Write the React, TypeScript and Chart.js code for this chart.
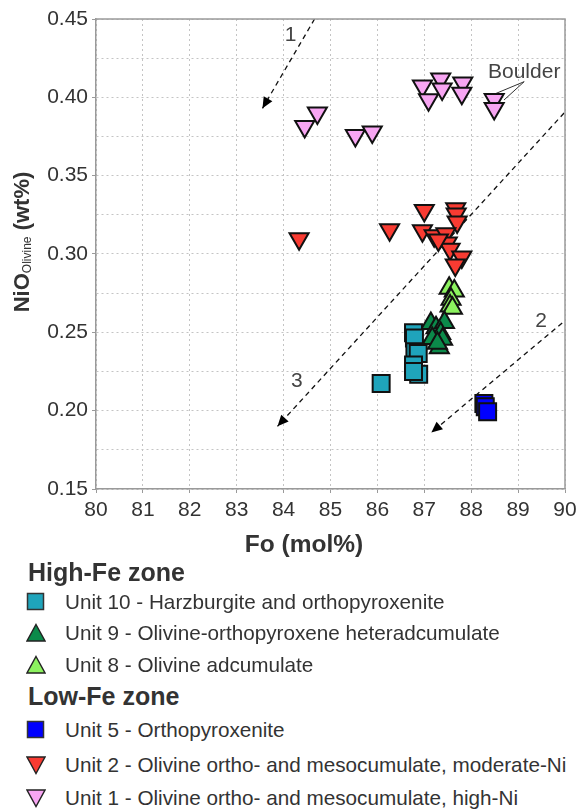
import React, { useEffect, useRef } from 'react';
import { Chart, registerables } from 'chart.js';

Chart.register(...registerables);

const FONT = '"Liberation Sans", Arial, Helvetica, sans-serif';
const TEXT = '#333333';

// ---------- data ----------
const unit10Fo = [86.77, 86.79, 86.8, 86.87, 86.77, 86.88, 86.77, 86.08];
const unit10NiO = [0.2497, 0.2464, 0.2376, 0.2365, 0.2291, 0.2233, 0.225, 0.2174];

const unit9Fo = [87.14, 87.25, 87.43, 87.35, 87.39, 87.32, 87.17, 87.28];
const unit9NiO = [0.2556, 0.253, 0.2562, 0.2492, 0.2456, 0.2402, 0.246, 0.243];

const unit8Fo = [87.53, 87.64, 87.57, 87.55, 87.6];
const unit8NiO = [0.2782, 0.2764, 0.2711, 0.2668, 0.2653];

const unit5Fo = [88.27, 88.3, 88.35];
const unit5NiO = [0.2046, 0.2025, 0.1993];

const unit2Fo = [84.33, 86.26, 87.0, 86.96, 87.21, 87.67, 87.68, 87.7, 87.46, 87.49, 87.55, 87.8, 87.66, 87.3];
const unit2NiO = [0.3097, 0.3155, 0.3278, 0.3149, 0.3117, 0.3289, 0.3256, 0.3205, 0.3129, 0.307, 0.303, 0.2981, 0.293, 0.309];

const unit1Fo = [84.45, 84.72, 85.53, 85.89, 86.96, 87.09, 87.35, 87.38, 87.82, 87.8, 88.49, 88.49];
const unit1NiO = [0.3814, 0.39, 0.3757, 0.3779, 0.4072, 0.3985, 0.4117, 0.4053, 0.4092, 0.4026, 0.3986, 0.3929];

// trend arrows (start -> arrow tip)
const trend1Fo = [84.66, 83.55];
const trend1NiO = [0.45, 0.393];
const trend2Fo = [89.94, 87.15];
const trend2NiO = [0.256, 0.186];
const trend3Fo = [89.98, 83.87];
const trend3NiO = [0.39, 0.19];

const trendLabels = ['1', '2', '3'];
const trendLabelFo = [84.15, 89.49, 84.28];
const trendLabelNiO = [0.4398, 0.2573, 0.219];

const boulderText = 'Boulder';
const boulderFo = 89.13;
const boulderNiO = 0.4162;
const boulderLeaderAFo = [89.13, 88.49];
const boulderLeaderANiO = [0.41, 0.402];
const boulderLeaderBFo = [89.13, 88.7];
const boulderLeaderBNiO = [0.41, 0.3983];

const xMin = 80;
const xMax = 90;
const yMin = 0.15;
const yMax = 0.45;

const xTitle = 'Fo (mol%)';
const yTitleMain = 'NiO';
const yTitleSub = 'Olivine';
const yTitleUnit = '(wt%)';

// ---------- styles ----------
const COLORS = {
  unit10: '#1fa4bb',
  unit9: '#0b8a4a',
  unit8: '#8cf25f',
  unit5: '#0000ff',
  unit2: '#f83b32',
  unit1: '#f7a5f2',
};

type LegendEntry =
  | { kind: 'header'; text: string }
  | { kind: 'item'; marker: 'square' | 'up' | 'down'; color: string; text: string };

const legendEntries: LegendEntry[] = [
  { kind: 'header', text: 'High-Fe zone' },
  { kind: 'item', marker: 'square', color: COLORS.unit10, text: 'Unit 10 - Harzburgite and orthopyroxenite' },
  { kind: 'item', marker: 'up', color: COLORS.unit9, text: 'Unit 9 - Olivine-orthopyroxene heteradcumulate' },
  { kind: 'item', marker: 'up', color: COLORS.unit8, text: 'Unit 8 - Olivine adcumulate' },
  { kind: 'header', text: 'Low-Fe zone' },
  { kind: 'item', marker: 'square', color: COLORS.unit5, text: 'Unit 5 - Orthopyroxenite' },
  { kind: 'item', marker: 'down', color: COLORS.unit2, text: 'Unit 2 - Olivine ortho- and mesocumulate, moderate-Ni' },
  { kind: 'item', marker: 'down', color: COLORS.unit1, text: 'Unit 1 - Olivine ortho- and mesocumulate, high-Ni' },
];
const legendRowCenters = [572, 602, 633, 665, 696, 730, 765, 798];

const pts = (xs: number[], ys: number[]) => xs.map((x, i) => ({ x, y: ys[i] }));

const markerDataset = (label: string, xs: number[], ys: number[], color: string, style: string, rotation: number, radius: number, bw: number) => ({
  label,
  data: pts(xs, ys),
  showLine: false,
  pointStyle: style,
  pointRotation: rotation,
  pointRadius: radius,
  pointBackgroundColor: color,
  pointBorderColor: '#111111',
  pointBorderWidth: bw,
  pointHoverRadius: radius,
});

const lineDataset = (label: string, xs: number[], ys: number[], dashed: boolean, arrow: boolean) => ({
  label,
  data: pts(xs, ys),
  showLine: true,
  borderColor: dashed ? '#111111' : '#333333',
  borderWidth: dashed ? 1.3 : 1,
  borderDash: dashed ? [5, 4] : [],
  pointRadius: 0,
  pointHoverRadius: 0,
  fill: false,
  arrow,
});

const decorPlugin = {
  id: 'decor',
  afterDraw(chart: any) {
    const { ctx, chartArea } = chart;
    const xs = chart.scales.x;
    const ys = chart.scales.y;
    ctx.save();
    // frame (top and right)
    ctx.strokeStyle = '#9a9a9a';
    ctx.lineWidth = 1.5;
    ctx.beginPath();
    ctx.moveTo(chartArea.left, chartArea.top);
    ctx.lineTo(chartArea.right, chartArea.top);
    ctx.lineTo(chartArea.right, chartArea.bottom);
    ctx.stroke();

    // arrowheads
    chart.data.datasets.forEach((ds: any) => {
      if (!ds.arrow) return;
      const n = ds.data.length;
      const p1 = ds.data[n - 2];
      const p2 = ds.data[n - 1];
      const x1 = xs.getPixelForValue(p1.x);
      const y1 = ys.getPixelForValue(p1.y);
      const x2 = xs.getPixelForValue(p2.x);
      const y2 = ys.getPixelForValue(p2.y);
      const ang = Math.atan2(y2 - y1, x2 - x1);
      const len = 11;
      const half = 5;
      ctx.fillStyle = '#000000';
      ctx.beginPath();
      ctx.moveTo(x2, y2);
      ctx.lineTo(x2 - len * Math.cos(ang) + half * Math.sin(ang), y2 - len * Math.sin(ang) - half * Math.cos(ang));
      ctx.lineTo(x2 - len * Math.cos(ang) - half * Math.sin(ang), y2 - len * Math.sin(ang) + half * Math.cos(ang));
      ctx.closePath();
      ctx.fill();
    });

    // annotation labels
    ctx.fillStyle = '#444444';
    ctx.font = `21px ${FONT}`;
    ctx.textAlign = 'center';
    ctx.textBaseline = 'middle';
    trendLabels.forEach((t, i) => {
      ctx.fillText(t, xs.getPixelForValue(trendLabelFo[i]), ys.getPixelForValue(trendLabelNiO[i]));
    });
    ctx.fillText(boulderText, xs.getPixelForValue(boulderFo), ys.getPixelForValue(boulderNiO));

    // axis titles
    ctx.fillStyle = TEXT;
    ctx.font = `bold 24.5px ${FONT}`;
    ctx.textAlign = 'center';
    ctx.textBaseline = 'middle';
    ctx.fillText(xTitle, 304, 545);

    ctx.translate(29, 242);
    ctx.rotate(-Math.PI / 2);
    ctx.textAlign = 'left';
    ctx.textBaseline = 'alphabetic';
    const boldFont = `bold 22px ${FONT}`;
    const subFont = `12px ${FONT}`;
    ctx.font = boldFont;
    const wMain = ctx.measureText(yTitleMain).width;
    const wUnit = ctx.measureText(' ' + yTitleUnit).width;
    ctx.font = subFont;
    const wSub = ctx.measureText(yTitleSub).width;
    const total = wMain + wSub + wUnit;
    let cx = -total / 2;
    ctx.font = boldFont;
    ctx.fillText(yTitleMain, cx, 0);
    cx += wMain;
    ctx.font = subFont;
    ctx.fillText(yTitleSub, cx, 2);
    cx += wSub;
    ctx.font = boldFont;
    ctx.fillText(' ' + yTitleUnit, cx, 0);
    ctx.restore();
  },
};

const Marker: React.FC<{ marker: 'square' | 'up' | 'down'; color: string }> = ({ marker, color }) => {
  if (marker === 'square') {
    return (
      <svg width={20} height={20} style={{ display: 'block' }}>
        <rect x={1.5} y={1.5} width={16} height={16} fill={color} stroke="#333" strokeWidth={1.5} />
      </svg>
    );
  }
  const d = marker === 'up' ? 'M10 1.5 L19 18 L1 18 Z' : 'M1 2 L19 2 L10 18.5 Z';
  return (
    <svg width={20} height={20} style={{ display: 'block' }}>
      <path d={d} fill={color} stroke="#222" strokeWidth={1.4} strokeLinejoin="miter" />
    </svg>
  );
};

export default function App() {
  const canvasRef = useRef<HTMLCanvasElement | null>(null);

  useEffect(() => {
    const canvas = canvasRef.current;
    if (!canvas) return;
    const chart = new Chart(canvas, {
      type: 'scatter',
      data: {
        datasets: [
          markerDataset('Unit 10', unit10Fo, unit10NiO, COLORS.unit10, 'rect', 0, 12, 2),
          markerDataset('Unit 9', unit9Fo, unit9NiO, COLORS.unit9, 'triangle', 0, 11, 2),
          markerDataset('Unit 8', unit8Fo, unit8NiO, COLORS.unit8, 'triangle', 0, 11, 2),
          markerDataset('Unit 5', unit5Fo, unit5NiO, COLORS.unit5, 'rect', 0, 12, 2),
          markerDataset('Unit 2', unit2Fo, unit2NiO, COLORS.unit2, 'triangle', 180, 11, 2),
          markerDataset('Unit 1', unit1Fo, unit1NiO, COLORS.unit1, 'triangle', 180, 11, 2),
          lineDataset('Trend 1', trend1Fo, trend1NiO, true, true),
          lineDataset('Trend 2', trend2Fo, trend2NiO, true, true),
          lineDataset('Trend 3', trend3Fo, trend3NiO, true, true),
          lineDataset('Boulder A', boulderLeaderAFo, boulderLeaderANiO, false, false),
          lineDataset('Boulder B', boulderLeaderBFo, boulderLeaderBNiO, false, false),
        ] as any,
      },
      options: {
        responsive: false,
        animation: false,
        devicePixelRatio: 1,
        layout: { padding: { left: 0, top: 19, right: 13, bottom: 0 } },
        plugins: { legend: { display: false }, tooltip: { enabled: false } },
        scales: {
          x: {
            type: 'linear',
            min: xMin,
            max: xMax,
            afterFit: (s: any) => {
              s.height = 71;
              s.paddingLeft = 0;
              s.paddingRight = 0;
            },
            ticks: {
              stepSize: 1,
              color: TEXT,
              font: { family: FONT, size: 21 },
              padding: 5,
              maxRotation: 0,
              callback: (v: any) => String(v),
            },
            grid: {
              color: '#c4c4c4',
              lineWidth: 1,
              tickLength: 4,
              tickColor: '#9a9a9a',
            },
            border: { display: true, color: '#9a9a9a', width: 1.5, dash: [2, 3] },
          },
          y: {
            type: 'linear',
            min: yMin,
            max: yMax,
            afterFit: (s: any) => {
              s.width = 96;
              s.paddingTop = 0;
              s.paddingBottom = 0;
            },
            ticks: {
              stepSize: 0.025,
              color: TEXT,
              font: { family: FONT, size: 21 },
              padding: 4,
              callback: (v: any) => {
                const k = Math.round(v * 40);
                return k % 2 === 0 ? (k / 40).toFixed(2) : '';
              },
            },
            grid: {
              color: '#c4c4c4',
              lineWidth: 1,
              tickLength: 4,
              tickColor: (ctx: any) => {
                const v = ctx.tick ? ctx.tick.value : 0;
                return Math.round(v * 40) % 2 === 0 ? '#9a9a9a' : 'rgba(0,0,0,0)';
              },
            },
            border: { display: true, color: '#9a9a9a', width: 1.5, dash: [2, 3] },
          },
        },
      } as any,
      plugins: [decorPlugin],
    });
    return () => chart.destroy();
  }, []);

  return (
    <div style={{ position: 'absolute', left: 0, top: 0, width: 579, height: 809, background: '#ffffff', fontFamily: FONT }}>
      <canvas ref={canvasRef} width={579} height={560} style={{ position: 'absolute', left: 0, top: 0, width: 579, height: 560 }} />
      {legendEntries.map((e, i) => {
        const c = legendRowCenters[i];
        if (e.kind === 'header') {
          return (
            <div
              key={i}
              style={{ position: 'absolute', left: 28, top: c - 15, height: 30, lineHeight: '30px', fontSize: 25, fontWeight: 'bold', color: TEXT, whiteSpace: 'nowrap' }}
            >
              {e.text}
            </div>
          );
        }
        return (
          <div key={i}>
            <div style={{ position: 'absolute', left: 26, top: c - 10 }}>
              <Marker marker={e.marker} color={e.color} />
            </div>
            <div
              style={{ position: 'absolute', left: 65, top: c - 12, height: 24, lineHeight: '24px', fontSize: 20.7, color: TEXT, whiteSpace: 'nowrap' }}
            >
              {e.text}
            </div>
          </div>
        );
      })}
    </div>
  );
}
